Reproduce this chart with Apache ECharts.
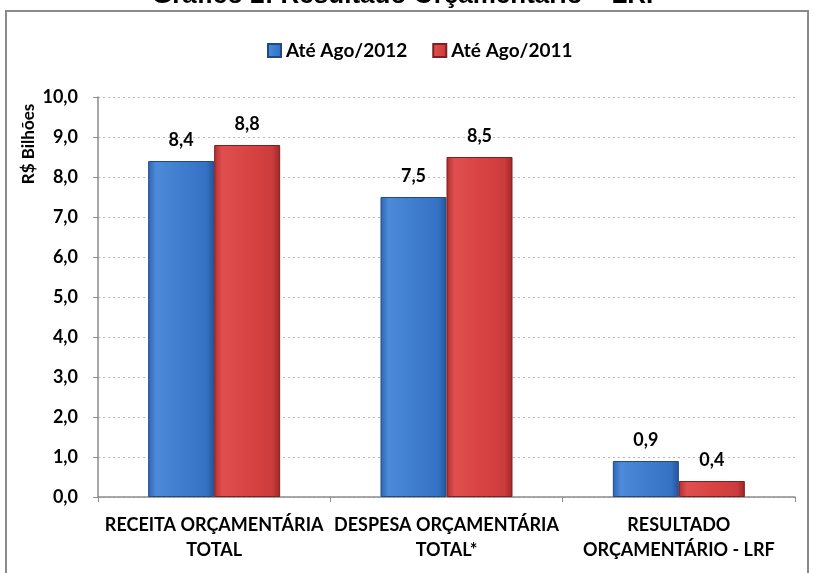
<!DOCTYPE html>
<html>
<head>
<meta charset="utf-8">
<script src="https://cdn.jsdelivr.net/npm/echarts@6/dist/echarts.min.js"></script>
<style>
  html, body { margin: 0; padding: 0; background: #fff; }
  #chart { width: 814px; height: 573px; }
</style>
</head>
<body>
<div id="chart"></div>
<script>
const categories = ["RECEITA ORÇAMENTÁRIA\nTOTAL", "DESPESA ORÇAMENTÁRIA\nTOTAL*", "RESULTADO\nORÇAMENTÁRIO - LRF"];
const seriesNames = ["Até Ago/2012", "Até Ago/2011"];
const values2012 = [8.4, 7.5, 0.9];
const values2011 = [8.8, 8.5, 0.4];
const yTicks = [0, 1, 2, 3, 4, 5, 6, 7, 8, 9, 10];

const font = "Lato, 'Open Sans', sans-serif";
const fmt = (v) => v.toFixed(1).replace(".", ",");

const blueGrad = new echarts.graphic.LinearGradient(0, 0, 1, 0, [
  { offset: 0, color: "#2d66b5" },
  { offset: 0.12, color: "#4d8ad8" },
  { offset: 0.5, color: "#3f7dcf" },
  { offset: 0.88, color: "#3672c4" },
  { offset: 1, color: "#24549a" },
]);
const redGrad = new echarts.graphic.LinearGradient(0, 0, 1, 0, [
  { offset: 0, color: "#b02e2e" },
  { offset: 0.12, color: "#e04f4f" },
  { offset: 0.5, color: "#d84444" },
  { offset: 0.88, color: "#cc3c3c" },
  { offset: 1, color: "#9c2727" },
]);

const chart = echarts.init(document.getElementById("chart"));

const valueLabel = {
  show: true, position: "top", distance: 12,
  fontFamily: font, fontWeight: "bold", fontSize: 18, color: "#000",
  formatter: (p) => fmt(p.value),
};

chart.setOption({
  animation: false,
  title: {
    text: "Gráfico 2: Resultado Orçamentário – LRF",
    left: "center",
    top: -22,
    textStyle: { fontFamily: "Arial, 'Liberation Sans'", fontWeight: "bold", fontSize: 26, color: "#000" },
  },
  graphic: [
    {
      type: "rect",
      shape: { x: 6, y: 11, width: 802, height: 600 },
      style: { fill: "none", stroke: "#8a8a8a", lineWidth: 2 },
      silent: true,
    },
    {
      type: "text",
      x: 29, y: 144,
      rotation: Math.PI / 2,
      style: {
        text: "R$ Bilhões",
        fontFamily: font, fontWeight: "bold", fontSize: 17, fill: "#000",
        align: "center", verticalAlign: "middle",
      },
      silent: true,
    },
  ],
  legend: {
    data: seriesNames,
    top: 36,
    left: 262,
    itemWidth: 13,
    itemHeight: 13,
    itemGap: 25,
    icon: "rect",
    textStyle: { fontFamily: font, fontWeight: "bold", fontSize: 19, color: "#000" },
  },
  grid: { left: 98, right: 19, top: 97, bottom: 76 },
  xAxis: {
    type: "category",
    data: categories,
    axisLine: { lineStyle: { color: "#8c8c8c", width: 1.5 } },
    axisTick: { show: true, length: 5, lineStyle: { color: "#8c8c8c" } },
    axisLabel: {
      fontFamily: font, fontWeight: "bold", fontSize: 18, color: "#000",
      lineHeight: 25, margin: 16, interval: 0,
    },
  },
  yAxis: {
    type: "value",
    min: yTicks[0],
    max: yTicks[yTicks.length - 1],
    interval: 1,
    axisLine: { show: true, lineStyle: { color: "#8c8c8c", width: 1.5 } },
    axisTick: { show: true, length: 5, lineStyle: { color: "#8c8c8c" } },
    axisLabel: {
      fontFamily: font, fontWeight: "bold", fontSize: 18, color: "#000", margin: 20,
      formatter: (v) => fmt(v),
    },
    splitLine: { lineStyle: { color: "#b8b8b8", type: [2, 3] } },
  },
  series: [
    {
      name: seriesNames[0],
      type: "bar",
      data: values2012,
      barWidth: 66,
      barGap: "0%",
      itemStyle: { color: blueGrad, borderColor: "#1f4a87", borderWidth: 1 },
      label: valueLabel,
    },
    {
      name: seriesNames[1],
      type: "bar",
      data: values2011,
      barWidth: 66,
      itemStyle: { color: redGrad, borderColor: "#7f1f1f", borderWidth: 1 },
      label: valueLabel,
    },
  ],
});
</script>
</body>
</html>
